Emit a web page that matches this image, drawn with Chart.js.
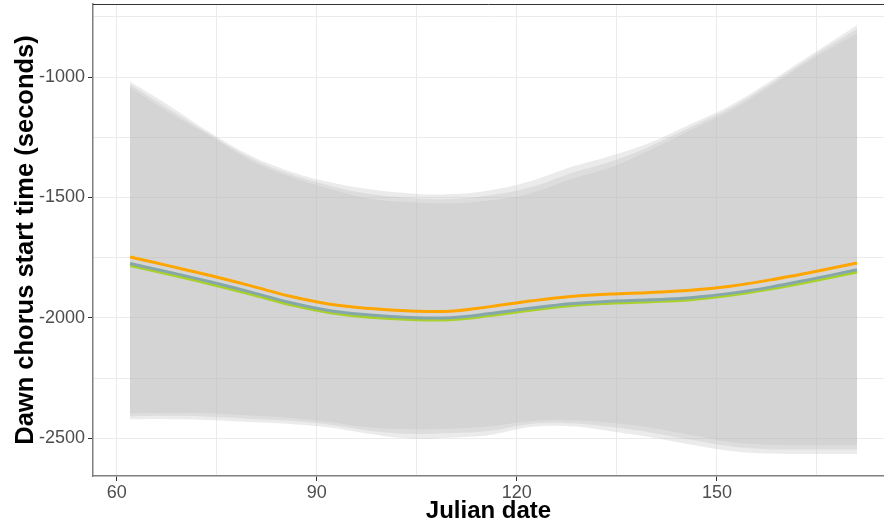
<!DOCTYPE html>
<html>
<head>
<meta charset="utf-8">
<script src="https://cdn.jsdelivr.net/npm/chart.js@4.4.1/dist/chart.umd.min.js"></script>
<style>
  html,body{margin:0;background:#fff}
  #wrap{width:884px;height:529px}
</style>
</head>
<body>
<div id="wrap"><canvas id="chart" width="884" height="529"></canvas></div>
<script>
/* data */
const days = [62,68,74,80,86,92,98,104,110,116,122,128,134,140,146,152,158,164,171];

const orangeFit = [-1747,-1785,-1824,-1866,-1910,-1943,-1961,-1971,-1972,-1953,-1930,-1911,-1901,-1894,-1885,-1868,-1842,-1811,-1772];
const blueFit   = [-1774,-1811,-1850,-1892,-1936,-1970,-1988,-1998,-1999,-1982,-1960,-1941,-1931,-1925,-1916,-1898,-1872,-1840,-1800];
const greenFit  = [-1783,-1820,-1859,-1901,-1945,-1979,-1997,-2006,-2007,-1990,-1968,-1949,-1939,-1933,-1924,-1906,-1880,-1849,-1809];

const orangeUpper = [-1019,-1121,-1230,-1325,-1392,-1437,-1466,-1483,-1487,-1470,-1433,-1375,-1328,-1272,-1196,-1118,-1018,-910,-785];
const orangeLower = [-2396,-2393,-2396,-2405,-2415,-2432,-2455,-2462,-2460,-2450,-2428,-2425,-2435,-2455,-2485,-2515,-2526,-2528,-2528];
const blueUpper   = [-1031,-1136,-1238,-1335,-1403,-1451,-1486,-1502,-1506,-1491,-1458,-1400,-1352,-1287,-1209,-1129,-1028,-920,-801];
const blueLower   = [-2408,-2406,-2410,-2418,-2427,-2443,-2468,-2481,-2478,-2468,-2440,-2437,-2452,-2475,-2505,-2533,-2545,-2546,-2546];
const greenUpper  = [-1044,-1150,-1245,-1345,-1413,-1465,-1505,-1520,-1525,-1512,-1483,-1425,-1376,-1303,-1222,-1140,-1038,-930,-819];
const greenLower  = [-2421,-2420,-2424,-2432,-2440,-2455,-2482,-2500,-2497,-2486,-2453,-2450,-2470,-2495,-2525,-2552,-2563,-2565,-2565];

const xTicks = [60,90,120,150];
const xMinor = [75,105,135,165];
const yTicks = [-2500,-2000,-1500,-1000];
const yMinor = [-2250,-1750,-1250,-750];

const pts = arr => days.map((d,i)=>({x:d,y:arr[i]}));

const ribbonFill = "rgba(190,190,190,0.3)";
function ribbon(upper,lower){
  return [
    {data:pts(upper),fill:"+1",backgroundColor:ribbonFill,borderWidth:0,pointRadius:0,tension:0.4,order:10},
    {data:pts(lower),fill:false,borderWidth:0,pointRadius:0,tension:0.4,order:10}
  ];
}
function fitLine(arr,color,order){
  return {data:pts(arr),fill:false,borderColor:color,borderWidth:3,pointRadius:0,tension:0.4,order};
}

const setTicks = (major,minor) => axis => {
  axis.ticks = [...major,...minor].sort((a,b)=>a-b).map(v=>({value:v}));
};

/* dark top edge of the panel */
const topBorder = {
  id:"topBorder",
  afterDraw(c){
    const {ctx,chartArea:a}=c;
    ctx.save();
    ctx.strokeStyle="#333";
    ctx.lineWidth=1;
    ctx.beginPath();
    ctx.moveTo(a.left,a.top+0.5);
    ctx.lineTo(a.right,a.top+0.5);
    ctx.stroke();
    ctx.restore();
  }
};

const tickFont = {family:"Liberation Sans, Arial, sans-serif",size:18};
const titleFont = {family:"Liberation Sans, Arial, sans-serif",size:24,weight:"bold"};

new Chart(document.getElementById("chart"),{
  type:"line",
  data:{
    datasets:[
      ...ribbon(orangeUpper,orangeLower),
      ...ribbon(blueUpper,blueLower),
      ...ribbon(greenUpper,greenLower),
      fitLine(greenFit,"#a9d12e",3),
      fitLine(blueFit,"#86a7aa",2),
      fitLine(orangeFit,"#ffa500",1)
    ]
  },
  options:{
    responsive:false,
    animation:false,
    layout:{autoPadding:false,padding:{top:4,right:0,left:0,bottom:0}},
    plugins:{legend:{display:false},tooltip:{enabled:false}},
    scales:{
      x:{
        type:"linear",
        min:56.45,
        max:175.05,
        afterBuildTicks:setTicks(xTicks,xMinor),
        afterFit:s=>{s.height=53;s.paddingLeft=0;s.paddingRight=0;},
        grid:{
          color:"#ebebeb",
          lineWidth:1,
          tickLength:5,
          tickColor:c=>xTicks.includes(c.tick.value)?"#333":"rgba(0,0,0,0)"
        },
        border:{color:"#7f7f7f",width:1.5},
        ticks:{
          color:"#4d4d4d",font:tickFont,padding:1,maxRotation:0,autoSkip:false,
          callback:v=>xTicks.includes(v)?String(v):""
        },
        title:{display:true,text:"Julian date",color:"#000",font:titleFont,padding:{top:0,bottom:3}}
      },
      y:{
        type:"linear",
        min:-2656,
        max:-697,
        afterBuildTicks:setTicks(yTicks,yMinor),
        afterFit:s=>{s.width=93;s.paddingTop=0;s.paddingBottom=0;},
        grid:{
          color:"#ebebeb",
          lineWidth:1,
          tickLength:5,
          tickColor:c=>yTicks.includes(c.tick.value)?"#333":"rgba(0,0,0,0)"
        },
        border:{color:"#7f7f7f",width:1.5},
        ticks:{
          color:"#4d4d4d",font:tickFont,padding:3,autoSkip:false,
          callback:v=>yTicks.includes(v)?String(v):""
        },
        title:{display:true,text:"Dawn chorus start time (seconds)",color:"#000",
          font:{...titleFont,size:25.5},padding:{top:11,bottom:0}}
      }
    }
  },
  plugins:[topBorder]
});
</script>
</body>
</html>
